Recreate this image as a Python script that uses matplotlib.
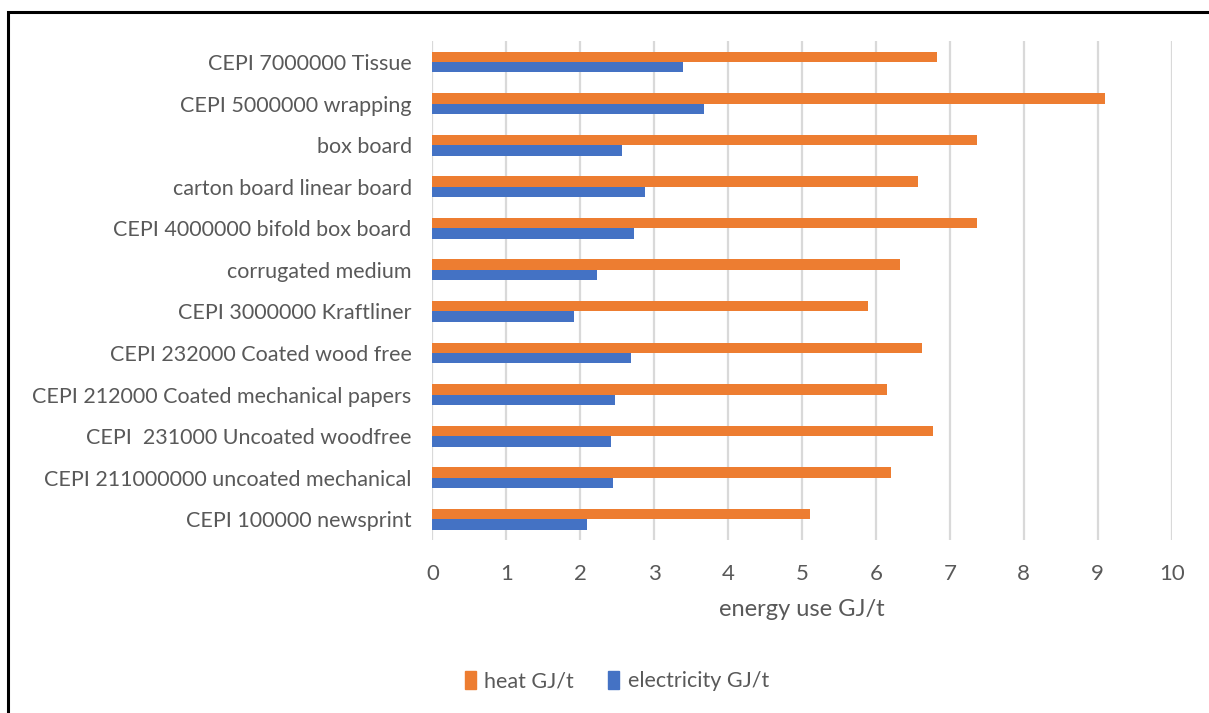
import numpy as np
import matplotlib
matplotlib.use("Agg")
from matplotlib import pyplot as plt
from matplotlib.patches import Rectangle, Patch

# categories, top to bottom as drawn
categories = [
    "CEPI 7000000 Tissue",
    "CEPI 5000000 wrapping",
    "box board",
    "carton board linear board",
    "CEPI 4000000 bifold box board",
    "corrugated medium",
    "CEPI 3000000 Kraftliner",
    "CEPI 232000 Coated wood free",
    "CEPI 212000 Coated mechanical papers",
    "CEPI  231000 Uncoated woodfree",
    "CEPI 211000000 uncoated mechanical",
    "CEPI 100000 newsprint",
]

heat = [6.83, 9.10, 7.37, 6.57, 7.37, 6.33, 5.89, 6.62, 6.15, 6.77, 6.20, 5.11]
electricity = [3.39, 3.67, 2.56, 2.88, 2.73, 2.23, 1.92, 2.68, 2.47, 2.41, 2.44, 2.09]

x_ticks = list(range(0, 11))

ORANGE = "#ED7D31"
BLUE = "#4472C4"
TEXT = "#595959"
GRID = "#D9D9D9"

plt.rcParams["font.family"] = ["Lato", "DejaVu Sans"]


def main():
    fig = plt.figure(figsize=(12.09, 7.13), dpi=100)
    ax = fig.add_axes([0.3577, 0.2426, 0.6114, 0.6995])

    y = np.arange(len(categories))
    h = 0.25
    ax.barh(y - h / 2, heat, height=h, color=ORANGE, zorder=3)
    ax.barh(y + h / 2, electricity, height=h, color=BLUE, zorder=3)

    ax.set_xlim(0, 10)
    ax.set_ylim(len(categories) - 0.5, -0.5)
    ax.set_xticks(x_ticks)
    ax.set_yticks(y)
    ax.set_yticklabels(categories)

    ax.tick_params(axis="y", length=0, pad=15, labelsize=15.5, labelcolor=TEXT)
    ax.tick_params(axis="x", length=0, pad=17, labelsize=16, labelcolor=TEXT)

    for s in ax.spines.values():
        s.set_visible(False)
    ax.grid(axis="x", color=GRID, linewidth=1.6, zorder=0)
    ax.set_axisbelow(True)

    ax.set_xlabel("energy use GJ/t", fontsize=17, color=TEXT, labelpad=11)

    handles = [Patch(color=ORANGE, label="heat GJ/t"),
               Patch(color=BLUE, label="electricity GJ/t")]
    leg = fig.legend(handles=handles, loc="center", bbox_to_anchor=(617 / 1209, 1 - 681 / 713),
                     ncol=2, frameon=False, fontsize=15.5, handlelength=0.5,
                     handleheight=0.9, handletextpad=0.4, columnspacing=1.6)
    for t in leg.get_texts():
        t.set_color(TEXT)

    # black frame around the chart area (cut off at right and bottom)
    fig.patches.append(Rectangle((8 / 1209, -0.05), 1.2, 1 - 12 / 713 + 0.05,
                                 transform=fig.transFigure, fill=False,
                                 edgecolor="black", linewidth=2.2))

    fig.savefig("out.png", dpi=100)


if __name__ == "__main__":
    main()
